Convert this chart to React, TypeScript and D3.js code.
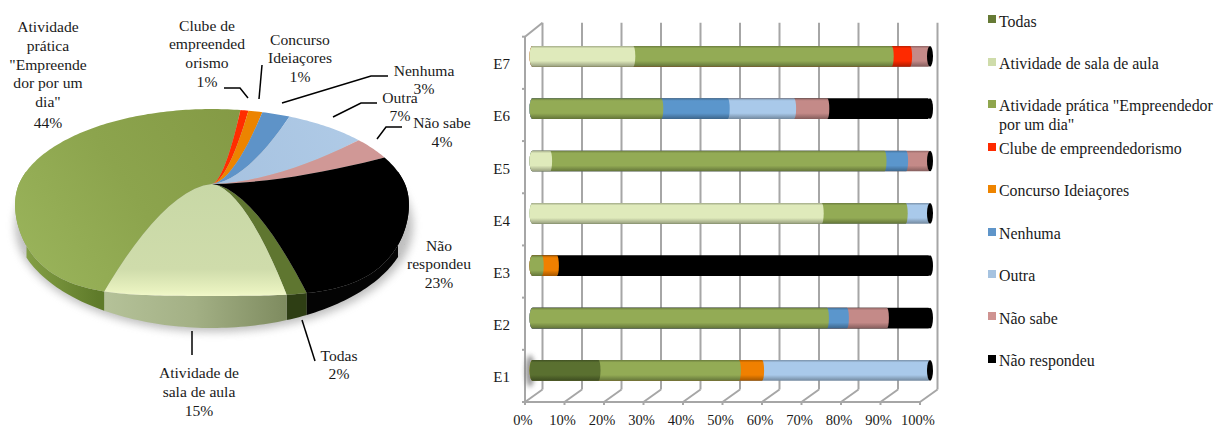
import React from "react";
import * as d3 from "d3";

const FONT = "'Liberation Serif','Times New Roman',serif";

// --- Pie: shares as they appear on the picture, in drawing order (clockwise)
const pieNames = ["Todas", "Atividade de sala de aula", "Atividade prática", "Clube de empreendedorismo", "Concurso Ideiaçores", "Nenhuma", "Outra", "Não sabe", "Não respondeu"];
const pieShares = [1.5, 12.7, 45.2, 0.8, 1.4, 2.8, 8.1, 4.0, 23.5];
const pieKeys = ["todas", "sala", "pratica", "clube", "concurso", "nenhuma", "outra", "naosabe", "naoresp"];
const pieFaceFill = ["#5f7630", "url(#faceSala)", "url(#facePratica)", "#ff2d00", "#ec8400", "#5e93c8", "url(#faceOutra)", "#d09896", "#000000"];
const pieSideFill = ["#2e3e14", "url(#sideSala)", "url(#sidePratica)", "#b02000", "#a05a00", "#3f6a96", "#7c95b0", "#9a6c6a", "#040404"];

const pieLabels: { lines: string[]; x: number; y: number[] }[] = [
  { lines: ["Atividade", "prática", "\"Empreende", "dor por um", "dia\"", "44%"], x: 48, y: [32, 51, 70, 88, 107, 128] },
  { lines: ["Clube de", "empreended", "orismo", "1%"], x: 207, y: [31, 49, 68, 87] },
  { lines: ["Concurso", "Ideiaçores", "1%"], x: 300, y: [45, 63, 82] },
  { lines: ["Nenhuma", "3%"], x: 424, y: [76, 94] },
  { lines: ["Outra", "7%"], x: 400, y: [103, 121] },
  { lines: ["Não sabe", "4%"], x: 442, y: [128, 147] },
  { lines: ["Não", "respondeu", "23%"], x: 439, y: [251, 269, 288] },
  { lines: ["Todas", "2%"], x: 339, y: [361, 379] },
  { lines: ["Atividade de", "sala de aula", "15%"], x: 199, y: [378, 397, 416] },
];
const leaderLines: [number, number][][] = [
  [[224, 88], [240, 88], [248, 98]],
  [[262, 65], [259, 99]],
  [[388, 76], [371, 76], [282, 103]],
  [[377, 103], [361, 103], [333, 117]],
  [[402, 127], [386, 127], [377, 139]],
  [[192, 331], [192, 355]],
  [[302, 320], [315, 361]],
];

// --- Bars
const barCats = ["E1", "E2", "E3", "E4", "E5", "E6", "E7"];
const serTodas = [17.5, 0, 0, 0, 0, 0, 0];
const serSala = [0, 0, 0, 73.3, 5.4, 0, 26.2];
const serPratica = [35.1, 74.6, 3.3, 21, 83.6, 33.2, 64.6];
const serClube = [0, 0, 0, 0, 0, 0, 4.6];
const serConcurso = [5.8, 0, 3.8, 0, 0, 0, 0];
const serNenhuma = [0, 5, 0, 0, 5.4, 16.6, 0];
const serOutra = [41.6, 0, 0, 5.7, 0, 16.6, 0];
const serNaoSabe = [0, 10, 0, 0, 5.6, 8.3, 4.6];
const serNaoResp = [0, 10.4, 92.9, 0, 0, 25.2, 0];
const seriesVals = [serTodas, serSala, serPratica, serClube, serConcurso, serNenhuma, serOutra, serNaoSabe, serNaoResp];
const seriesColors = ["#5a7030", "#dfeabb", "#93ab55", "#fe2a00", "#f08000", "#5b96cc", "#a9c9ea", "#c48a88", "#000000"];
const xTicks = [0, 10, 20, 30, 40, 50, 60, 70, 80, 90, 100];

const legendEntries: { lines: string[]; color: string; sy: number; by: number[] }[] = [
  { lines: ["Todas"], color: "#667a35", sy: 15, by: [27] },
  { lines: ["Atividade de sala de aula"], color: "#cfdcaa", sy: 58, by: [69] },
  { lines: ["Atividade prática \"Empreendedor", "por um dia\""], color: "#8fa64e", sy: 100, by: [111, 130] },
  { lines: ["Clube de empreendedorismo"], color: "#fe2a00", sy: 143, by: [154] },
  { lines: ["Concurso Ideiaçores"], color: "#ee8400", sy: 185, by: [196] },
  { lines: ["Nenhuma"], color: "#5f95c9", sy: 228, by: [239] },
  { lines: ["Outra"], color: "#a6c3e0", sy: 270, by: [281] },
  { lines: ["Não sabe"], color: "#cf9391", sy: 312, by: [324] },
  { lines: ["Não respondeu"], color: "#000000", sy: 355, by: [366] },
];

// --- Pie geometry: a circle seen in perspective, its near rim a little fuller
const AX = 212, AY = 184, RX = 193, RY = 89.8, K = 0.198, BULGE = 16;
const project = (a: number): [number, number] => {
  const u = Math.sin(a), v = -Math.cos(a), w = 1 - K * v;
  const bump = v > 0 ? BULGE * 4 * u * u * v * v : 0;
  return [AX + (RX * u) / w, AY + (RY * v) / w + bump];
};
const LOW_CX = 212, LOW_RX = 197, LOW_CY = 222, LOW_RY = 106;
const lowerY = (x: number) => {
  const t = Math.min(1, Math.abs(x - LOW_CX) / LOW_RX);
  return LOW_CY + LOW_RY * Math.sqrt(1 - t * t);
};
const radial = (a: number): [number, number][] => {
  const [rx, ry] = project(a);
  return d3.range(0, 1.0001, 0.08).map((s) => [AX + s * (rx - AX), AY + Math.pow(s, 1.7) * (ry - AY)] as [number, number]);
};
const START = (156.3 * Math.PI) / 180;
const arcsData = d3.pie<number>().sort(null).startAngle(START).endAngle(START + 2 * Math.PI)(pieShares);
const lineGen = d3.line<[number, number]>();
const rimSamples = (a0: number, a1: number) => {
  const n = Math.max(4, Math.ceil((a1 - a0) / 0.02));
  return d3.range(n + 1).map((i) => a0 + ((a1 - a0) * i) / n);
};
const facePath = (a0: number, a1: number) =>
  lineGen([...radial(a0), ...rimSamples(a0, a1).map(project), ...radial(a1).reverse()]) + "Z";
// side wall: only the part of the rim that faces the viewer
const sidePath = (a0: number, a1: number) => {
  const rim = rimSamples(a0, a1).filter((a) => Math.cos(a) < 0.15).map(project);
  if (rim.length < 2) return "";
  const low = rim.map(([x, y]) => [x, Math.max(y, lowerY(x))] as [number, number]).reverse();
  return lineGen([...rim, ...low]) + "Z";
};

// --- Bar geometry
const x0 = 525, x100 = 920, DX = 17.5, DY = 12.5, FLOOR = 402, TOP = 36.7;
const xAxis = d3.scaleLinear().domain([0, 100]).range([x0, x100]);
const xBar = d3.scaleLinear().domain([0, 100]).range([530, 930]);
const yBand = d3.scaleBand<string>().domain([...barCats].reverse()).range([TOP, FLOOR]);
const yBar = d3.scaleBand<string>().domain([...barCats].reverse()).range([TOP - 6.6, FLOOR - 5.4]);
const BAR_H = 20.7;
const stackGen = d3.stack<number>().keys(d3.range(seriesVals.length) as any).value((i: number, k: any) => seriesVals[k][i]);
const stacked = stackGen(d3.range(barCats.length));
const CAP = 3;
const JOINT = 2;
const BAR_LEFT = 532.5;

const segPath = (xr: number, top: number, bot: number) => {
  const r = BAR_H / 2;
  return `M${BAR_LEFT},${top} L${xr},${top} A${JOINT},${r} 0 0 1 ${xr},${bot} L${BAR_LEFT},${bot} A${CAP},${r} 0 0 1 ${BAR_LEFT},${top} Z`;
};

export default function App() {
  const catTicks = yBand.domain().map((c) => yBand(c) as number).concat(FLOOR);
  return (
    <svg width={1217} height={428} style={{ position: "absolute", left: 0, top: 0, background: "#fff" }} fontFamily={FONT} fontSize={15.6} fill="#1a1a1a">
      <defs>
        <filter id="blur6" x="-20%" y="-20%" width="140%" height="140%"><feGaussianBlur stdDeviation="4" /></filter>
        <filter id="blur3" x="-100%" y="-50%" width="300%" height="200%"><feGaussianBlur stdDeviation="2.5" /></filter>
        <linearGradient id="faceSala" gradientUnits="userSpaceOnUse" x1="0" y1="184" x2="0" y2="302">
          <stop offset="0" stopColor="#c8d8a6" /><stop offset="0.72" stopColor="#cfdcab" /><stop offset="0.9" stopColor="#e8f1bf" /><stop offset="1" stopColor="#fbffd4" />
        </linearGradient>
        <linearGradient id="facePratica" gradientUnits="userSpaceOnUse" x1="14" y1="260" x2="240" y2="110">
          <stop offset="0" stopColor="#9ab45b" /><stop offset="0.5" stopColor="#8ca44d" /><stop offset="1" stopColor="#849a45" />
        </linearGradient>
        <linearGradient id="faceOutra" gradientUnits="userSpaceOnUse" x1="212" y1="184" x2="350" y2="130">
          <stop offset="0" stopColor="#a6c2e0" /><stop offset="1" stopColor="#afcae6" />
        </linearGradient>
        <linearGradient id="sideSala" gradientUnits="userSpaceOnUse" x1="98" y1="0" x2="290" y2="0">
          <stop offset="0" stopColor="#b6c39a" /><stop offset="0.5" stopColor="#a3b085" /><stop offset="1" stopColor="#7d8a5e" />
        </linearGradient>
        <linearGradient id="sidePratica" gradientUnits="userSpaceOnUse" x1="14" y1="0" x2="98" y2="0">
          <stop offset="0" stopColor="#8aa54a" /><stop offset="1" stopColor="#5f7b2a" />
        </linearGradient>
        {seriesColors.map((c, i) => {
          const col = d3.color(c)!;
          return (
            <linearGradient key={i} id={`cyl${i}`} x1="0" y1="0" x2="0" y2="1">
              <stop offset="0" stopColor={col.darker(0.9).formatHex()} />
              <stop offset="0.12" stopColor={c} />
              <stop offset="0.72" stopColor={c} />
              <stop offset="1" stopColor={col.darker(1.1).formatHex()} />
            </linearGradient>
          );
        })}
      </defs>

      {/* pie */}
      <g aria-label="pie">
        <ellipse cx={214} cy={226} rx={199} ry={106} fill="#8a8a8a" opacity={0.55} filter="url(#blur6)" />
        {arcsData.map((d, i) => (
          <path key={`s${pieKeys[i]}`} d={sidePath(d.startAngle, d.endAngle)} fill={pieSideFill[i]} />
        ))}
        {arcsData.map((d, i) => (
          <path key={`f${pieKeys[i]}`} d={facePath(d.startAngle, d.endAngle)} fill={pieFaceFill[i]}>
            <title>{pieNames[i]}</title>
          </path>
        ))}
      </g>
      {leaderLines.map((pts, i) => (
        <path key={i} d={lineGen(pts)!} fill="none" stroke="#000" strokeWidth={1.5} />
      ))}
      {pieLabels.map((l, i) => (
        <text key={i} textAnchor="middle">
          {l.lines.map((t, j) => (
            <tspan key={j} x={l.x} y={l.y[j]}>{t}</tspan>
          ))}
        </text>
      ))}

      {/* bar frame */}
      <g stroke="#a6a6a6" fill="none" strokeWidth={2}>
        {xTicks.map((t) => (
          <g key={t}>
            <path d={`M${xAxis(t) + DX},${TOP - DY - 1.5} V${FLOOR - DY}`} />
            <path d={`M${xAxis(t)},${FLOOR} L${xAxis(t) + DX},${FLOOR - DY}`} />
            <path d={`M${xAxis(t)},${FLOOR} v3`} />
          </g>
        ))}
        <path d={`M${x0},${TOP} V${FLOOR} H${x100}`} />
        <path d={`M${x0},${TOP} L${x0 + DX},${TOP - DY - 1.5}`} />
        {catTicks.map((y) => (
          <path key={y} d={`M${x0 - 3},${y} H${x0}`} />
        ))}
      </g>

      {/* bars */}
      <ellipse cx={530} cy={371} rx={4.5} ry={16} fill="#777" opacity={0.8} filter="url(#blur3)" />
      {barCats.map((c, ci) => {
        const mid = (yBand(c) as number) + yBand.bandwidth() / 2;
        const cy = (yBar(c) as number) + yBar.bandwidth() / 2;
        const top = cy - BAR_H / 2, bot = cy + BAR_H / 2;
        return (
          <g key={c}>
            {stacked
              .map((s, si) => ({ si, v1: s[ci][1], v: seriesVals[si][ci] }))
              .filter((d) => d.v > 0)
              .reverse()
              .map((d) => (
                <path key={d.si} d={segPath(xBar(d.v1) - 1.5, top, bot)} fill={d.si === 8 ? "#000" : `url(#cyl${d.si})`} />
              ))}
            <ellipse cx={xBar(100)} cy={cy} rx={CAP} ry={BAR_H / 2} fill="#000" />
            <text x={510} y={mid + 6.5} textAnchor="end" fontSize={15}>{c}</text>
          </g>
        );
      })}
      {xTicks.map((t) => (
        <text key={t} x={xAxis(t) - 2} y={425} textAnchor="middle" fontSize={14.5}>{`${t}%`}</text>
      ))}

      {/* legend */}
      {legendEntries.map((e) => (
        <g key={e.lines[0]}>
          <rect x={988} y={e.sy} width={8} height={8} fill={e.color} />
          <text fontSize={15.9}>
            {e.lines.map((t, j) => (
              <tspan key={j} x={999} y={e.by[j]}>{t}</tspan>
            ))}
          </text>
        </g>
      ))}
    </svg>
  );
}
